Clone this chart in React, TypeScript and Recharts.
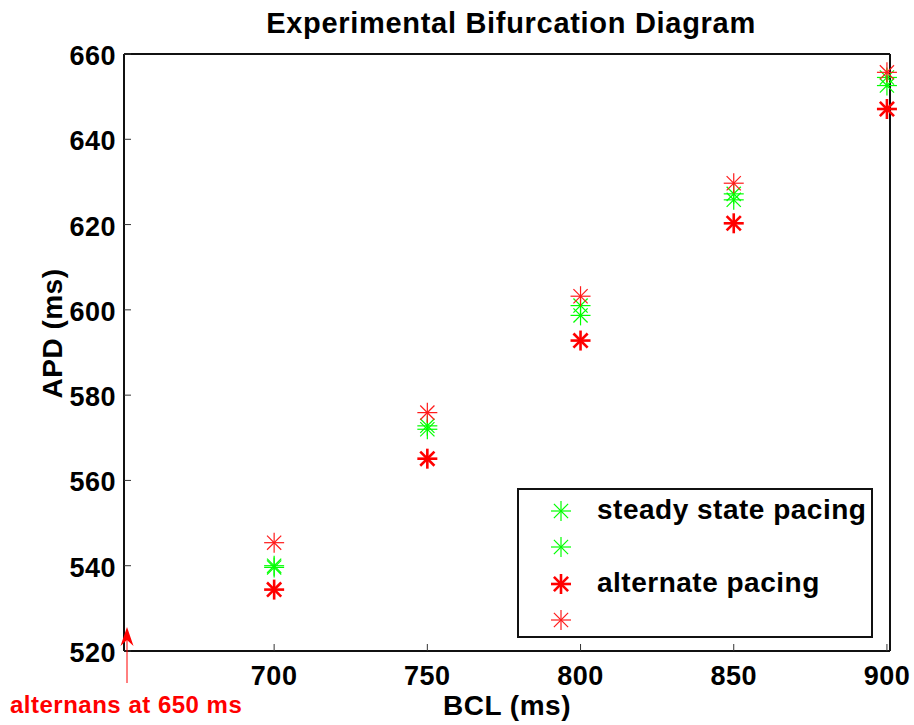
import React from 'react';
import { ScatterChart, Scatter, XAxis, YAxis, Legend } from 'recharts';

// pacing cycle lengths (ms)
const bclValues = [700, 750, 800, 850, 900];

// APD readings (ms), one list per plotted series
const steadyStateA = [540.0, 572.8, 601.0, 627.2, 654.5];
const steadyStateB = [539.6, 572.0, 598.7, 625.8, 652.6];
const alternateShort = [534.4, 565.1, 592.8, 620.3, 647.1];
const alternateLong = [545.4, 575.9, 603.2, 629.7, 655.7];

const xTicks = [700, 750, 800, 850, 900];
const yTicks = [520, 540, 560, 580, 600, 620, 640, 660];

const FONT = '"Liberation Sans", Arial, Helvetica, sans-serif';

const toPoints = (ys: number[]) => bclValues.map((bcl, i) => ({ bcl, apd: ys[i] }));

const series = [
  { key: 'steadyA', label: 'steady state pacing', color: '#00ff00', width: 1.2, data: toPoints(steadyStateA) },
  { key: 'steadyB', label: '', color: '#00ff00', width: 1.2, data: toPoints(steadyStateB) },
  { key: 'altShort', label: 'alternate pacing', color: '#ff0000', width: 2.6, data: toPoints(alternateShort) },
  { key: 'altLong', label: '', color: '#ff1a1a', width: 1.2, data: toPoints(alternateLong) },
];

// MATLAB-style '*' marker
const Star = ({ cx, cy, color, width }: any) => {
  const r = 10;
  const d = 7.1;
  return (
    <g stroke={color} strokeWidth={width}>
      <line x1={cx - r} y1={cy} x2={cx + r} y2={cy} />
      <line x1={cx} y1={cy - r} x2={cx} y2={cy + r} />
      <line x1={cx - d} y1={cy - d} x2={cx + d} y2={cy + d} />
      <line x1={cx - d} y1={cy + d} x2={cx + d} y2={cy - d} />
    </g>
  );
};

const textProps = {
  fontFamily: FONT,
  fontWeight: 'bold' as const,
  fill: '#000',
};

const BottomTick = ({ x, y, payload }: any) => (
  <g>
    <line x1={x} y1={y} x2={x} y2={y - 7} stroke="#333" />
    <text x={x} y={y + 34} textAnchor="middle" fontSize={27} letterSpacing={0.5} {...textProps}>
      {payload.value}
    </text>
  </g>
);

const TopTick = ({ x, y }: any) => <line x1={x} y1={y} x2={x} y2={y + 7} stroke="#333" />;

const LeftTick = ({ x, y, payload }: any) => (
  <g>
    <line x1={x} y1={y} x2={x + 7} y2={y} stroke="#333" />
    <text x={x - 8} y={y + 11} textAnchor="end" fontSize={27} letterSpacing={0.5} {...textProps}>
      {payload.value}
    </text>
  </g>
);

const RightTick = ({ x, y }: any) => <line x1={x} y1={y} x2={x - 7} y2={y} stroke="#333" />;

const LegendBox = () => (
  <div
    style={{
      position: 'relative',
      width: 356,
      height: 150,
      boxSizing: 'border-box',
      border: '2px solid #111',
      background: '#fff',
    }}
  >
    {series.map((s, i) => (
      <div key={s.key} style={{ position: 'absolute', left: 0, top: 21 + i * 36.3 - 12, height: 24, width: '100%' }}>
        <svg width={24} height={24} style={{ position: 'absolute', left: 30, top: 0 }}>
          <Star cx={12} cy={12} color={s.color} width={s.width} />
        </svg>
        <span
          style={{
            position: 'absolute',
            left: 78,
            top: -4,
            fontFamily: FONT,
            fontWeight: 'bold',
            fontSize: 28,
            letterSpacing: 0.5,
            lineHeight: '30px',
            whiteSpace: 'nowrap',
          }}
        >
          {s.label}
        </span>
      </div>
    ))}
  </div>
);

export default function App() {
  return (
    <div style={{ position: 'absolute', left: 0, top: 0, width: 914, height: 725, background: '#fff' }}>
      <ScatterChart width={914} height={725} margin={{ top: 53, right: 23, bottom: 0, left: 24 }}>
        <XAxis
          xAxisId={0}
          type="number"
          dataKey="bcl"
          domain={[651, 901]}
          ticks={xTicks}
          interval={0}
          height={74}
          tickSize={0}
          tickMargin={0}
          tickLine={false}
          axisLine={{ stroke: '#111', strokeWidth: 2 }}
          tick={<BottomTick />}
          label={{
            content: ({ viewBox }: any) => (
              <text x={viewBox.x + viewBox.width / 2} y={viewBox.y + 64} textAnchor="middle" fontSize={28} letterSpacing={0.5} {...textProps}>
                BCL (ms)
              </text>
            ),
          }}
        />
        <XAxis
          xAxisId="top"
          orientation="top"
          type="number"
          dataKey="bcl"
          domain={[651, 901]}
          ticks={xTicks}
          interval={0}
          height={1}
          tickSize={0}
          tickMargin={0}
          tickLine={false}
          axisLine={{ stroke: '#111', strokeWidth: 2 }}
          tick={<TopTick />}
          label={{
            content: ({ viewBox }: any) => (
              <text x={viewBox.x + viewBox.width / 2 + 4} y={viewBox.y - 20} textAnchor="middle" fontSize={29} letterSpacing={0.7} {...textProps}>
                Experimental Bifurcation Diagram
              </text>
            ),
          }}
        />
        <YAxis
          yAxisId={0}
          type="number"
          dataKey="apd"
          domain={[520, 660]}
          ticks={yTicks}
          interval={0}
          width={100}
          tickSize={0}
          tickMargin={0}
          tickLine={false}
          axisLine={{ stroke: '#111', strokeWidth: 2 }}
          tick={<LeftTick />}
          label={{
            content: ({ viewBox }: any) => {
              const cx = viewBox.x + 28;
              const cy = viewBox.y + viewBox.height / 2 - 19;
              return (
                <text
                  x={cx}
                  y={cy}
                  dy={10}
                  textAnchor="middle"
                  transform={`rotate(-90, ${cx}, ${cy})`}
                  fontSize={28}
                  letterSpacing={0.5}
                  {...textProps}
                >
                  APD (ms)
                </text>
              );
            },
          }}
        />
        <YAxis
          yAxisId="right"
          orientation="right"
          type="number"
          domain={[520, 660]}
          ticks={yTicks}
          interval={0}
          width={1}
          tickSize={0}
          tickMargin={0}
          tickLine={false}
          axisLine={{ stroke: '#111', strokeWidth: 2 }}
          tick={<RightTick />}
        />
        {series.map((s) => (
          <Scatter
            key={s.key}
            name={s.label || s.key}
            data={s.data}
            isAnimationActive={false}
            shape={(p: any) => <Star cx={p.cx} cy={p.cy} color={s.color} width={s.width} />}
          />
        ))}
        <Legend
          layout="horizontal"
          verticalAlign="middle"
          align="center"
          wrapperStyle={{ left: 517, top: 488, width: 356, height: 150 }}
          content={() => <LegendBox />}
        />
      </ScatterChart>
      <svg width={914} height={725} style={{ position: 'absolute', left: 0, top: 0, pointerEvents: 'none' }}>
        <line x1={127} y1={640} x2={127} y2={683} stroke="#ff0000" strokeWidth={1} />
        <polygon points="127,627 120.5,646 127,640 133.5,646" fill="#ff0000" />
        <text x={10} y={713} fontSize={24} letterSpacing={0.5} fontFamily={FONT} fontWeight="bold" fill="#ff0000">
          alternans at 650 ms
        </text>
      </svg>
    </div>
  );
}
